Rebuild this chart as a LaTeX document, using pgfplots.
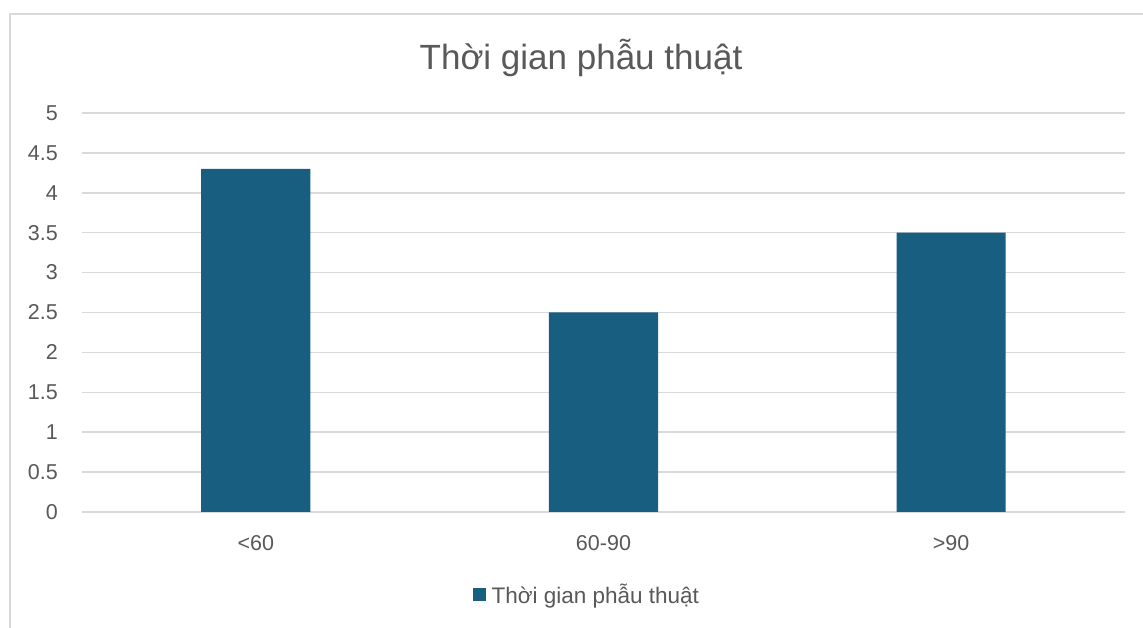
\documentclass[border=0pt]{standalone}
\usepackage{fontspec}
\setmainfont{Liberation Sans}
\usepackage{pgfplots}
\pgfplotsset{compat=1.18}
\definecolor{barcol}{RGB}{23,94,128}
\definecolor{txtgray}{RGB}{89,89,89}
\definecolor{gridgray}{RGB}{217,217,217}
\begin{document}
\begin{tikzpicture}[x=1pt,y=1pt]
\useasboundingbox (0,0) rectangle (1143,628);
\fill[white] (0,0) rectangle (1143,628);
\draw[gridgray, line width=2pt] (10,-5) -- (10,614) -- (1150,614);
\node[txtgray, font=\fontsize{35}{40}\selectfont] at (581,570) {Thời gian phẫu thuật};
\begin{axis}[
  at={(82pt,116pt)}, anchor=south west,
  scale only axis, width=1043pt, height=399pt,
  xmin=-0.5, xmax=2.5, ymin=0, ymax=5,
  xtick={0,1,2}, xticklabels={<60,60-90,>90},
  ytick={0,0.5,...,5},
  yticklabels={0,0.5,1,1.5,2,2.5,3,3.5,4,4.5,5},
  axis line style={draw=none},
  major tick style={draw=none},
  ymajorgrids, grid style={gridgray, line width=1.5pt},
  ticklabel style={font=\fontsize{21.5}{25}\selectfont, text=txtgray},
  xticklabel style={anchor=center, yshift=-31pt},
  yticklabel style={anchor=east, inner sep=0pt, xshift=-24pt},
  legend style={at={(axis description cs:0.483,-0.208)}, anchor=center, draw=none,
    font=\fontsize{22.5}{26}\selectfont, text=txtgray, inner sep=0pt,
    nodes={inner sep=0pt}},
  legend cell align=left,
  legend image code/.code={\fill[barcol] (0pt,-6.5pt) rectangle (13pt,6.5pt); \path (19pt,0pt);},
]
\addplot[ybar, bar width=0.314, fill=barcol, draw=none] coordinates {(0,4.3) (1,2.5) (2,3.5)};
\addlegendentry{Thời gian phẫu thuật}
\end{axis}
\end{tikzpicture}
\end{document}
